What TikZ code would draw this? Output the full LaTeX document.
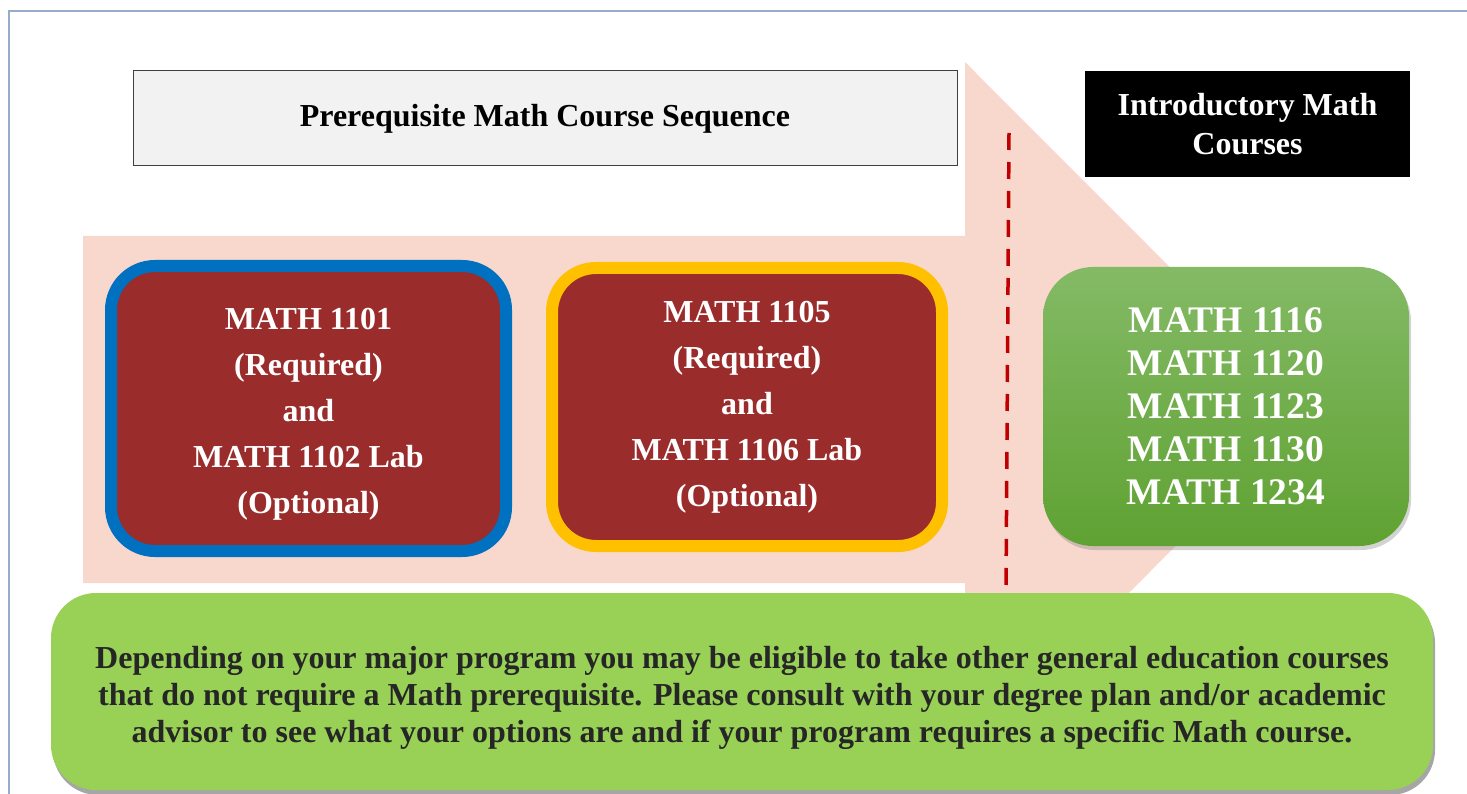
\documentclass[tikz,border=0pt]{standalone}
\usepackage{fontspec}
\setmainfont{Liberation Serif}
\usetikzlibrary{shadows}

\definecolor{framecol}{HTML}{95ACCB}
\definecolor{arrowpink}{HTML}{F8D7CD}
\definecolor{titlegrey}{HTML}{F2F2F2}
\definecolor{coursered}{HTML}{9A2C2C}
\definecolor{courseblue}{HTML}{0070C0}
\definecolor{courseyellow}{HTML}{FFC000}
\definecolor{greentop}{HTML}{84BA66}
\definecolor{greenbot}{HTML}{5FA232}
\definecolor{notegreen}{HTML}{98D156}
\definecolor{notetext}{HTML}{262626}
\definecolor{dashred}{HTML}{C00000}

\begin{document}
\begin{tikzpicture}[x=1pt, y=-1pt,
    course/.style={rounded corners=44pt, line width=12pt, fill=coursered, text=white,
        align=center, inner sep=0pt, minimum width=395pt, minimum height=285pt,
        font=\fontsize{32}{46}\selectfont\bfseries,
        drop shadow={shadow xshift=2pt, shadow yshift=-4pt, opacity=0.35}},
    header/.style={inner sep=0pt, align=center, font=\fontsize{32}{39}\selectfont\bfseries}]
    \useasboundingbox (0,0) rectangle (1467,794);

    % frame
    \draw[framecol, line width=1.5pt] (9,794) -- (9,11) -- (1467,11);

    % big arrow
    \fill[arrowpink] (83,236) -- (965,236) -- (965,62) -- (1312,409.5)
        -- (965,757) -- (965,583) -- (83,583) -- cycle;

    \node[header, draw=black!75, line width=1pt, fill=titlegrey,
        minimum width=824pt, minimum height=95pt] (prereq) at (545,118.5)
        {Prerequisite Math Course Sequence};
    \node[header, fill=black, text=white,
        minimum width=325pt, minimum height=106pt] (intro) at (1247.5,124)
        {Introductory Math\\Courses};

    \coordinate (cuttop) at (1009,133);
    \coordinate (cutbot) at (1006,590);
    \draw[dashred, line width=3.5pt, dash pattern=on 17pt off 12pt] (cuttop) -- (cutbot);

    \node[course, draw=courseblue] (1101) at (308.5,408.5)
        {\rule{0pt}{32pt}MATH 1101\\(Required)\\and\\MATH 1102 Lab\\(Optional)};
    \node[course, draw=courseyellow, minimum width=390pt, minimum height=278pt] (1105) at (747,407)
        {MATH 1105\\(Required)\\and\\MATH 1106 Lab\\(Optional)};

    \node[rounded corners=50pt, top color=greentop, bottom color=greenbot, text=white,
        align=center, inner sep=0pt, minimum width=366pt, minimum height=279pt,
        font=\fontsize{37.5}{43}\selectfont\bfseries,
        drop shadow={shadow xshift=2pt, shadow yshift=-4pt, opacity=0.35}] (intromath) at (1226,406.5)
        {MATH 1116\\MATH 1120\\MATH 1123\\MATH 1130\\MATH 1234};

    \node[rounded corners=45pt, fill=notegreen, text=notetext, align=center, inner sep=0pt,
        minimum width=1382pt, minimum height=197pt,
        font=\fontsize{32}{37}\selectfont\bfseries,
        drop shadow={shadow xshift=2pt, shadow yshift=-5pt, fill=black!35, opacity=1}] (note) at (742,691.5)
        {\rule{0pt}{36pt}Depending on your major program you may be eligible to take other general education courses\\
         that do not require a Math prerequisite. Please consult with your degree plan and/or academic\\
         advisor to see what your options are and if your program requires a specific Math course.};
\end{tikzpicture}
\end{document}
